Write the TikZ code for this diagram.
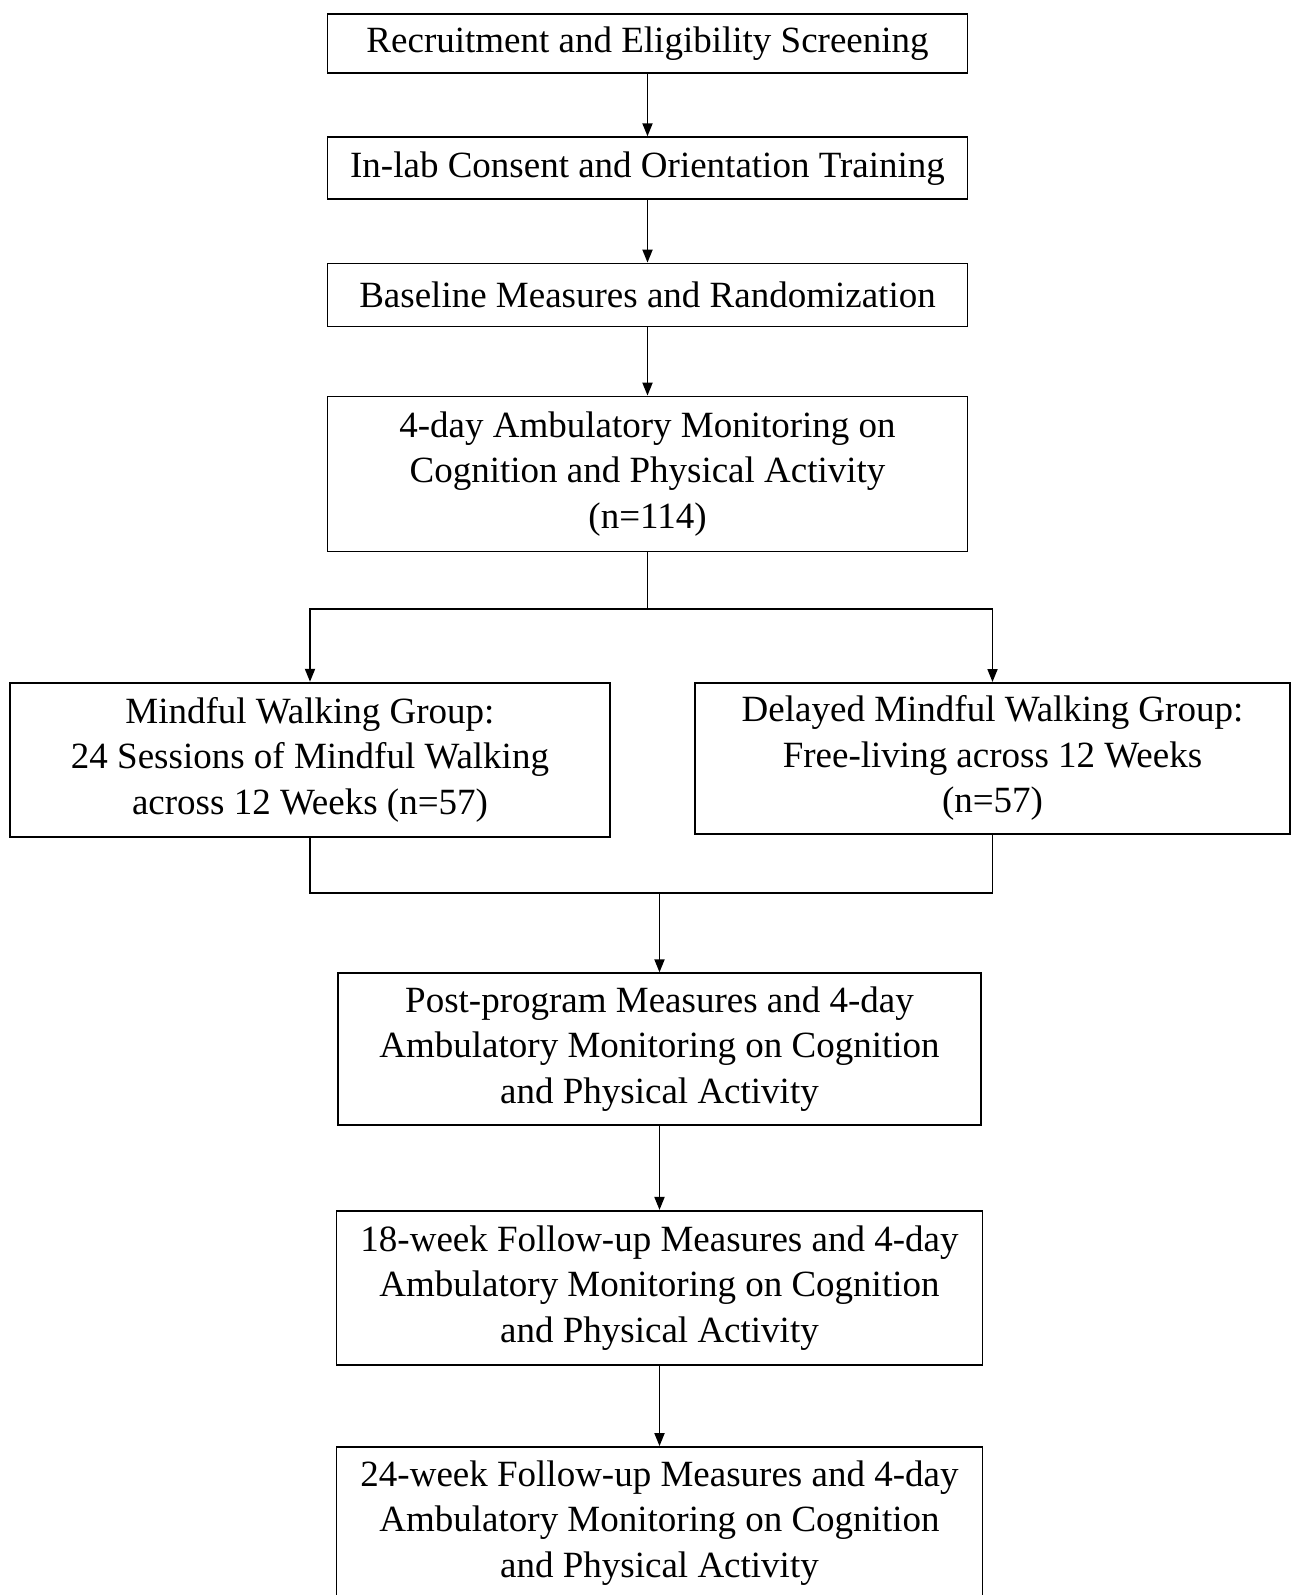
\documentclass[tikz,border=0pt]{standalone}
\usepackage{fontspec}
\setmainfont{Liberation Serif}
\usetikzlibrary{positioning, arrows.meta, calc}

\begin{document}
\begin{tikzpicture}[
        x=1pt, y=-1pt, % one unit = one pixel of the page
        % --- STYLES ---
        % 1. The stage boxes
        stage/.style={
                draw=black,
                line width=1.8pt,
                fill=white,
                align=center,
                inner sep=0pt,
                font=\fontsize{37}{45.5}\selectfont
            },
        % 2. The arrows between stages
        flow/.style={
                line width=1.8pt,
                -{Triangle[length=13pt, width=10pt]}
            },
        % 3. Plain joining lines
        link/.style={
                line width=1.8pt
            }
    ]

    % page frame
    \clip (0,0) rectangle (1292,1595);
    \fill[white] (0,0) rectangle (1292,1595);

    % 1. Screening and baseline
    \node[stage, minimum width=640pt, minimum height=59pt] (recruit) at (647.5,43.7)
    {Recruitment and Eligibility Screening};
    \node[stage, minimum width=640pt, minimum height=62pt] (consent) at (647.5,168.2)
    {In-lab Consent and Orientation Training};
    \node[stage, minimum width=640pt, minimum height=63pt] (baseline) at (647.5,295)
    {Baseline Measures and Randomization};
    \node[stage, minimum width=640pt, minimum height=155pt] (monitor) at (647.5,474)
    {4-day Ambulatory Monitoring on\\Cognition and Physical Activity\\(n=114)};

    % 2. The two groups
    \node[stage, minimum width=600pt, minimum height=154pt] (mindful) at (310,759.7)
    {Mindful Walking Group:\\24 Sessions of Mindful Walking\\across 12 Weeks (n=57)};
    \node[stage, minimum width=595pt, minimum height=151pt] (delayed) at (992.5,758.4)
    {Delayed Mindful Walking Group:\\Free-living across 12 Weeks\\(n=57)};

    % 3. Post-program and follow-ups
    \node[stage, minimum width=643pt, minimum height=151.5pt] (post) at (659.5,1049)
    {Post-program Measures and 4-day\\Ambulatory Monitoring on Cognition\\and Physical Activity};
    \node[stage, minimum width=646pt, minimum height=154pt] (followA) at (659.5,1287.8)
    {18-week Follow-up Measures and 4-day\\Ambulatory Monitoring on Cognition\\and Physical Activity};
    \node[stage, minimum width=646pt, minimum height=152pt] (followB) at (659.5,1523)
    {24-week Follow-up Measures and 4-day\\Ambulatory Monitoring on Cognition\\and Physical Activity};

    % 4. Arrows
    \draw[flow] (recruit) -- (consent);
    \draw[flow] (consent) -- (baseline);
    \draw[flow] (baseline) -- (monitor);

    % split into the groups
    \coordinate (split) at (647.5,609);
    \draw[link] (monitor) -- (split);
    \draw[flow] (split) -| (mindful);
    \draw[flow] (split) -| (delayed);

    % join after the groups
    \coordinate (merge) at (659.5,893);
    \draw[link] (mindful) |- (merge) -| (delayed);
    \draw[flow] (merge) -- (post);
    \draw[flow] (post) -- (followA);
    \draw[flow] (followA) -- (followB);

\end{tikzpicture}
\end{document}
